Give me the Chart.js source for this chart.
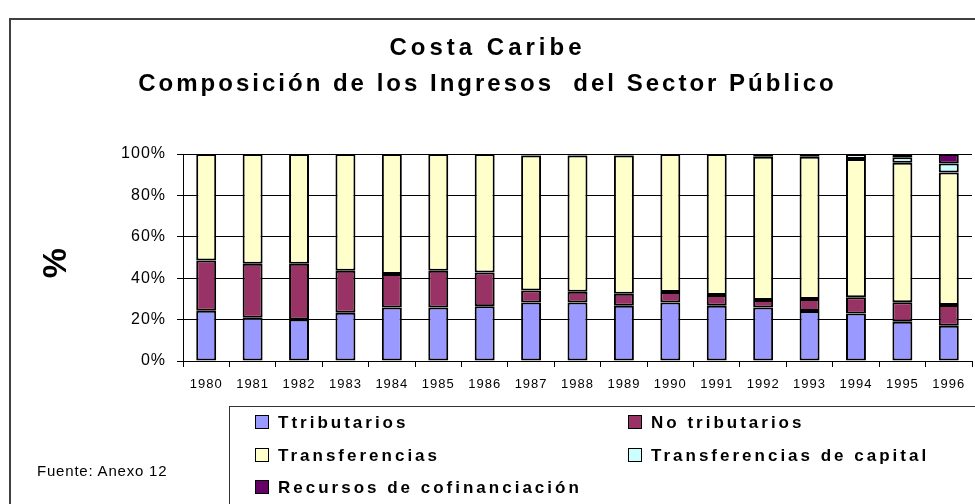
<!DOCTYPE html>
<html>
<head>
<meta charset="utf-8">
<script src="https://cdn.jsdelivr.net/npm/chart.js@4/dist/chart.umd.min.js"></script>
<style>
  body { margin: 0; background: #fff; }
  #wrap { position: relative; width: 975px; height: 504px; overflow: hidden; font-family: "Liberation Sans", Arial, sans-serif; }
  #frame { position: absolute; left: 9px; top: 18px; width: 1100px; height: 600px; border: 2px solid #404040; }
  canvas { position: absolute; left: 0; top: 0; }
  .title { position: absolute; left: 0; width: 975px; text-align: center; font-weight: bold; font-size: 24px; letter-spacing: 3px; color: #000; }
  #fuente { position: absolute; left: 37px; top: 462px; font-size: 15px; letter-spacing: 0.8px; }
  #legend { position: absolute; left: 229px; top: 406px; width: 900px; height: 200px; border: 1.5px solid #333; }
  .item { position: absolute; font-weight: bold; font-size: 17px; letter-spacing: 3px; white-space: nowrap; line-height: 18px; }
  .item span { display: inline-block; width: 12px; height: 12px; border: 1px solid #000; vertical-align: -1px; margin-right: 9px; }
</style>
</head>
<body>
<div id="wrap">
  <div id="frame"></div>
  <canvas id="chart" width="975" height="504"></canvas>
  <div class="title" style="top:33px; letter-spacing:4px">Costa Caribe</div>
  <div class="title" style="top:69px">Composición de los Ingresos &nbsp;del Sector Público</div>
  <div id="fuente">Fuente: Anexo 12</div>
  <div id="legend"></div>
</div>
<script>
const years = ['1980', '1981', '1982', '1983', '1984', '1985', '1986', '1987', '1988',
  '1989', '1990', '1991', '1992', '1993', '1994', '1995', '1996'];

const tributarios = [24.3, 20.9, 20.1, 23.3, 25.8, 25.8, 26.4, 28.3, 28.3, 26.7, 28.3, 26.7, 25.8, 24.2, 23.0, 19.0, 17.0];
const noTributarios = [24.2, 26.1, 26.9, 20.3, 16.2, 17.8, 16.4, 5.8, 5.2, 5.8, 5.0, 5.2, 3.7, 5.8, 7.8, 9.4, 10.0];
const transferencias = [51.5, 53.0, 53.0, 56.4, 58.0, 56.4, 57.2, 65.2, 65.8, 66.8, 66.7, 68.1, 69.2, 68.7, 66.8, 67.4, 64.1];
const transCapital = [0, 0, 0, 0, 0, 0, 0, 0, 0, 0, 0, 0, 1.3, 1.3, 2.4, 2.6, 4.3];
const cofinanciacion = [0, 0, 0, 0, 0, 0, 0, 0.7, 0.7, 0.7, 0, 0, 0, 0, 0, 1.6, 4.6];

const yTicks = [0, 20, 40, 60, 80, 100];

const series = [
  { label: 'Ttributarios', data: tributarios, color: '#9999ff' },
  { label: 'No tributarios', data: noTributarios, color: '#993366' },
  { label: 'Transferencias', data: transferencias, color: '#ffffcc' },
  { label: 'Transferencias de capital', data: transCapital, color: '#ccffff' },
  { label: 'Recursos de cofinanciación', data: cofinanciacion, color: '#660066' }
];

const font = '"Liberation Sans", Arial, sans-serif';

// canvas text in the original is a bit spread out
const spacing = {
  id: 'spacing',
  beforeDraw(chart) { chart.ctx.letterSpacing = '1px'; },
  afterDraw(chart) { chart.ctx.letterSpacing = '0px'; }
};

const chart = new Chart(document.getElementById('chart'), {
  type: 'bar',
  data: {
    labels: years,
    datasets: series.map(s => ({
      label: s.label,
      data: s.data,
      backgroundColor: s.color,
      borderColor: '#000',
      borderWidth: 2,
      borderSkipped: false,
      inflateAmount: 0,
      barPercentage: 0.43,
      categoryPercentage: 1
    }))
  },
  options: {
    responsive: false,
    animation: false,
    devicePixelRatio: 1,
    layout: { padding: { top: 154, right: 3, left: 0, bottom: 0 } },
    plugins: { legend: { display: false }, tooltip: { enabled: false } },
    scales: {
      x: {
        stacked: true,
        afterFit: (s) => { s.height = 143; },
        grid: { drawOnChartArea: false, tickLength: 6, color: '#000' },
        border: { color: '#000' },
        ticks: { color: '#000', font: { family: font, size: 13 }, padding: 10, maxRotation: 0, autoSkip: false }
      },
      y: {
        stacked: true,
        min: 0,
        max: 100,
        afterFit: (s) => { s.width = 183; },
        afterBuildTicks: (s) => { s.ticks = yTicks.map(v => ({ value: v })); },
        grid: { color: '#000', tickLength: 6 },
        border: { color: '#000' },
        ticks: { color: '#000', font: { family: font, size: 16 }, padding: 11, callback: (v) => v + '%' },
        title: { display: true, text: '% ', color: '#000', font: { family: font, size: 34, weight: 'bold' }, padding: { top: 36, bottom: 0 } }
      }
    }
  },
  plugins: [spacing]
});

// legend box in two columns, built from the same series
const legend = document.getElementById('legend');
const slots = [[25, 7], [398, 7], [25, 40], [398, 40], [25, 72]];
series.forEach((s, i) => {
  const d = document.createElement('div');
  d.className = 'item';
  d.style.left = slots[i][0] + 'px';
  d.style.top = slots[i][1] + 'px';
  d.innerHTML = '<span style="background:' + s.color + '"></span>' + s.label;
  legend.appendChild(d);
});
</script>
</body>
</html>
